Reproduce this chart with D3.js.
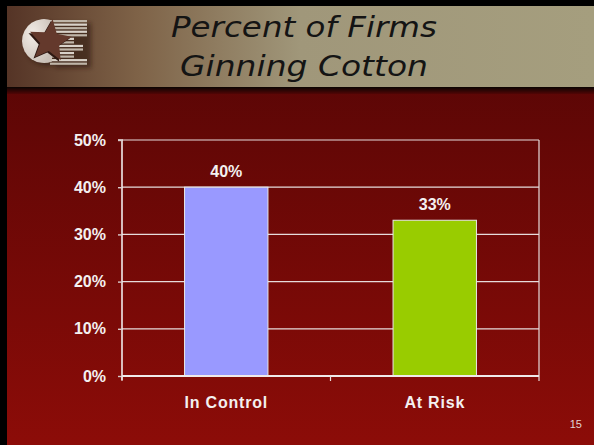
<!DOCTYPE html>
<html>
<head>
<meta charset="utf-8">
<script src="https://cdn.jsdelivr.net/npm/d3@7"></script>
<style>
  html, body { margin: 0; padding: 0; background: #000; }
  svg { display: block; }
</style>
</head>
<body>
<svg id="chart" width="594" height="445"></svg>
<script>
// Chart data
const categories = ["In Control", "At Risk"];
const values = [0.40, 0.33];
const barColors = ["#9999ff", "#99cc00"];
const yTicks = [0, 0.1, 0.2, 0.3, 0.4, 0.5];
const titleLines = ["Percent of Firms", "Ginning Cotton"];
const pageNumber = "15";

const W = 594, H = 445;
const svg = d3.select("#chart");
const defs = svg.append("defs");

// Slide background: dark red fading to brighter red downward
const bg = defs.append("linearGradient").attr("id", "bgGrad")
  .attr("x1", 0).attr("y1", 0).attr("x2", 0).attr("y2", 1);
bg.append("stop").attr("offset", "0%").attr("stop-color", "#520505");
bg.append("stop").attr("offset", "100%").attr("stop-color", "#8c0c08");

// Header band: brown at left to khaki at right
const hg = defs.append("linearGradient").attr("id", "hdrGrad")
  .attr("x1", 0).attr("y1", 0).attr("x2", 1).attr("y2", 0);
hg.append("stop").attr("offset", "0%").attr("stop-color", "#553426");
hg.append("stop").attr("offset", "22%").attr("stop-color", "#7e6247");
hg.append("stop").attr("offset", "50%").attr("stop-color", "#a0977a");
hg.append("stop").attr("offset", "100%").attr("stop-color", "#a59e7e");

// Shadow under the header
const sg = defs.append("linearGradient").attr("id", "shGrad")
  .attr("x1", 0).attr("y1", 0).attr("x2", 0).attr("y2", 1);
sg.append("stop").attr("offset", "0%").attr("stop-color", "#0a0503");
sg.append("stop").attr("offset", "100%").attr("stop-color", "#520505");

svg.append("rect").attr("width", W).attr("height", H).attr("fill", "#000");
svg.append("rect").attr("x", 7).attr("y", 6).attr("width", W - 7).attr("height", H - 6)
  .attr("fill", "url(#bgGrad)");
svg.append("rect").attr("x", 7).attr("y", 6).attr("width", W - 7).attr("height", 81)
  .attr("fill", "url(#hdrGrad)");
svg.append("rect").attr("x", 7).attr("y", 87).attr("width", W - 7).attr("height", 7)
  .attr("fill", "url(#shGrad)");

// Logo: a "C" disc, a striped "E" and a star over both
const soft = defs.append("filter").attr("id", "soft")
  .attr("x", "-20%").attr("y", "-20%").attr("width", "140%").attr("height", "140%");
soft.append("feGaussianBlur").attr("stdDeviation", 2);
const logo = svg.append("g");
// drop shadow
logo.append("path")
  .attr("d", "M52,20.5 A22,22 0 1,0 52,61.5 L52,65 L88,65 L88,20 Z")
  .attr("fill", "#2a1810").attr("opacity", 0.55).attr("filter", "url(#soft)")
  .attr("transform", "translate(3,3)");
// striped E: top arm, middle arm and bottom arm reach further right
const stripeRows = d3.range(13).map(i => 20 + i * 3.55);
logo.selectAll("rect.stripe").data(stripeRows).join("rect")
  .attr("class", "stripe")
  .attr("x", 50)
  .attr("y", d => d)
  .attr("width", d => (d > 37 && d < 43) || (d > 51 && d < 56) ? 24 : (d >= 43 && d <= 51 ? 33 : 37))
  .attr("height", 2.2)
  .attr("fill", (d, i) => i % 2 ? "#d9d2c9" : "#bfb5a8");
// C disc
const discGrad = defs.append("radialGradient").attr("id", "discGrad")
  .attr("cx", "35%").attr("cy", "35%").attr("r", "75%");
discGrad.append("stop").attr("offset", "0%").attr("stop-color", "#f2ece6");
discGrad.append("stop").attr("offset", "100%").attr("stop-color", "#c9bfb6");
logo.append("path")
  .attr("d", "M52,20.5 A22,22 0 1,0 52,61.5 Z")
  .attr("fill", "url(#discGrad)");
// star, slightly tilted
const star = [];
for (let k = 0; k < 10; k++) {
  const r = k % 2 ? 10 : 22;
  const a = -Math.PI / 2 + 0.12 + k * Math.PI / 5;
  star.push([50 + r * Math.cos(a), 41 + r * Math.sin(a)]);
}
logo.append("polygon").attr("points", star.map(p => p.join(",")).join(" "))
  .attr("fill", "#2e1812").attr("transform", "translate(-1.5,1.5)");
logo.append("polygon").attr("points", star.map(p => p.join(",")).join(" "))
  .attr("fill", "#64392c");

// Title
const title = svg.append("g").attr("font-family", "'DejaVu Sans', 'Liberation Sans', sans-serif")
  .attr("font-style", "italic").attr("font-size", 29).attr("fill", "#141414");
title.append("text").attr("x", 304).attr("y", 37).attr("text-anchor", "middle")
  .attr("textLength", 266).attr("lengthAdjust", "spacingAndGlyphs").text(titleLines[0]);
title.append("text").attr("x", 304).attr("y", 76).attr("text-anchor", "middle")
  .attr("textLength", 248).attr("lengthAdjust", "spacingAndGlyphs").text(titleLines[1]);

// Plot scales
const plot = { left: 122, right: 539, top: 140, bottom: 376 };
const x = d3.scaleBand().domain(categories).range([plot.left, plot.right])
  .paddingInner(0.6).paddingOuter(0.3);
const y = d3.scaleLinear().domain([0, 0.5]).range([plot.bottom, plot.top]);
const fmt = d3.format(".0%");

const g = svg.append("g");

// Gridlines (including the top frame line)
g.selectAll("line.grid").data(yTicks.filter(t => t > 0)).join("line")
  .attr("class", "grid")
  .attr("x1", plot.left).attr("x2", plot.right)
  .attr("y1", d => y(d)).attr("y2", d => y(d))
  .attr("stroke", "#e6dcdc").attr("stroke-width", 1.2);
// right frame line
g.append("line").attr("x1", plot.right).attr("x2", plot.right)
  .attr("y1", plot.top).attr("y2", plot.bottom)
  .attr("stroke", "#e6dcdc").attr("stroke-width", 1.2);

// Bars
g.selectAll("rect.bar").data(values).join("rect")
  .attr("class", "bar")
  .attr("x", (d, i) => x(categories[i]))
  .attr("y", d => y(d))
  .attr("width", x.bandwidth())
  .attr("height", d => y(0) - y(d))
  .attr("fill", (d, i) => barColors[i])
  .attr("stroke", "#e8e8e8").attr("stroke-width", 1);

// Value labels
g.selectAll("text.val").data(values).join("text")
  .attr("class", "val")
  .attr("x", (d, i) => x(categories[i]) + x.bandwidth() / 2)
  .attr("y", d => y(d) - 10)
  .attr("text-anchor", "middle")
  .attr("font-family", "'Liberation Sans', Arial, sans-serif")
  .attr("font-weight", "bold").attr("font-size", 16).attr("fill", "#f4f0f0")
  .text(d => fmt(d));

// Y axis
const yAxis = d3.axisLeft(y).tickValues(yTicks).tickFormat(fmt).tickSize(4).tickPadding(12);
const ya = g.append("g").attr("transform", `translate(${plot.left},0)`).call(yAxis);
ya.select(".domain").attr("stroke", "#f0eaea").attr("stroke-width", 1.6)
  .attr("d", `M-4,${plot.top}H0V${plot.bottom + 4}`);
ya.selectAll(".tick line").attr("stroke", "#d8cccc").attr("stroke-width", 1.4);
ya.selectAll(".tick text")
  .attr("font-family", "'Liberation Sans', Arial, sans-serif")
  .attr("font-weight", "bold").attr("font-size", 16).attr("fill", "#f4f0f0");

// X axis with ticks between categories
const xa = g.append("g").attr("transform", `translate(0,${plot.bottom})`);
xa.append("line").attr("x1", plot.left).attr("x2", plot.right)
  .attr("stroke", "#f0eaea").attr("stroke-width", 1.8);
const sep = [plot.left, (x(categories[0]) + x.bandwidth() + x(categories[1])) / 2, plot.right];
xa.selectAll("line.sep").data(sep).join("line").attr("class", "sep")
  .attr("x1", d => d).attr("x2", d => d).attr("y1", 0).attr("y2", 5)
  .attr("stroke", "#e6dcdc").attr("stroke-width", 1.2);
xa.selectAll("text.cat").data(categories).join("text").attr("class", "cat")
  .attr("x", d => x(d) + x.bandwidth() / 2)
  .attr("y", 32)
  .attr("text-anchor", "middle")
  .attr("font-family", "'Liberation Sans', Arial, sans-serif")
  .attr("font-weight", "bold").attr("font-size", 16).attr("letter-spacing", 0.8)
  .attr("fill", "#f4f0f0")
  .text(d => d);

// Slide number
svg.append("text").attr("x", 582).attr("y", 428).attr("text-anchor", "end")
  .attr("font-family", "'Liberation Sans', Arial, sans-serif")
  .attr("font-size", 11).attr("fill", "#e0d4d4").text(pageNumber);
</script>
</body>
</html>
